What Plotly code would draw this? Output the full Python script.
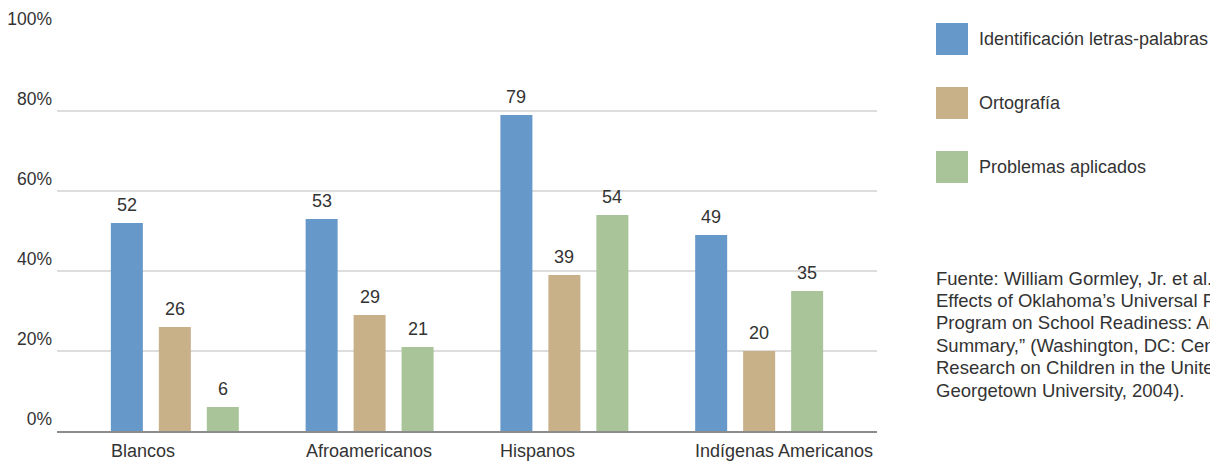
import plotly.graph_objects as go

categories = ["Blancos", "Afroamericanos", "Hispanos", "Indígenas Americanos"]
series_names = ["Identificación letras-palabras", "Ortografía", "Problemas aplicados"]
ident_values = [52, 53, 79, 49]
orto_values = [26, 29, 39, 20]
prob_values = [6, 21, 54, 35]
colors = ["#6699C9", "#C8B089", "#A9C499"]
y_ticks = [0, 20, 40, 60, 80, 100]
y_tick_labels = ["0%", "20%", "40%", "60%", "80%", "100%"]
source_lines = [
    "Fuente: William Gormley, Jr. et al. “The",
    "Effects of Oklahoma’s Universal Pre-K",
    "Program on School Readiness: An Executive",
    "Summary,” (Washington, DC: Center for",
    "Research on Children in the United States,",
    "Georgetown University, 2004).",
]

FONT = "Liberation Sans"
FS = 18
TXT = "#333333"
W, H = 1210, 462
L, R, T, B = 57, 333, 31, 31
PW, PH = W - L - R, H - T - B

all_values = [ident_values, orto_values, prob_values]
offsets = [-48, 0, 48]

fig = go.Figure()
for name, vals, col in zip(series_names, all_values, colors):
    fig.add_trace(go.Bar(
        x=categories, y=vals, name=name, marker=dict(color=col, line=dict(width=0)),
        showlegend=False, hoverinfo="x+y+name",
    ))

annotations = []
# value labels
for vals, off in zip(all_values, offsets):
    for c, v in zip(categories, vals):
        annotations.append(dict(
            x=c, y=v, xref="x", yref="y", text=str(v), showarrow=False,
            xshift=off, yshift=6, yanchor="bottom", xanchor="center",
            font=dict(family=FONT, size=FS, color=TXT),
        ))
# category labels, left aligned with the first bar of each group
for c in categories:
    annotations.append(dict(
        x=c, y=0, xref="x", yref="y", text=c, showarrow=False,
        xshift=-66, yshift=-8, yanchor="top", xanchor="left",
        font=dict(family=FONT, size=FS, color=TXT),
    ))

# legend (manual)
shapes = []
for i, (name, col) in enumerate(zip(series_names, colors)):
    top_px = 23 + 64 * i
    x0 = (936 - L) / PW
    x1 = (968 - L) / PW
    y1 = (H - B - top_px) / PH
    y0 = (H - B - top_px - 32) / PH
    shapes.append(dict(type="rect", xref="paper", yref="paper", x0=x0, x1=x1, y0=y0, y1=y1,
                       fillcolor=col, line=dict(width=0)))
    annotations.append(dict(
        x=(977 - L) / PW, y=(y0 + y1) / 2, xref="paper", yref="paper", text=name,
        showarrow=False, xanchor="left", yanchor="middle",
        font=dict(family=FONT, size=FS, color=TXT),
    ))

# source note, one line per annotation for exact line spacing
for i, line in enumerate(source_lines):
    cy = 278 + 22.4 * i
    annotations.append(dict(
        x=(934 - L) / PW, y=(H - B - cy) / PH, xref="paper", yref="paper",
        text=line, showarrow=False, xanchor="left", yanchor="middle", align="left",
        font=dict(family=FONT, size=18.5, color=TXT),
    ))

fig.update_layout(
    width=W, height=H,
    margin=dict(l=L, r=R, t=T, b=B, pad=0, autoexpand=False),
    paper_bgcolor="white", plot_bgcolor="white",
    barmode="group", bargap=0.261, bargroupgap=0.333,
    annotations=annotations, shapes=shapes,
    font=dict(family=FONT, size=FS, color=TXT),
)
fig.update_xaxes(
    type="category", range=[-0.605, 3.605], showticklabels=False, ticks="",
    showgrid=False, showline=True, linecolor="#8c8c8c", linewidth=2, zeroline=False,
    automargin=False,
)
fig.update_yaxes(
    range=[0, 100], tickvals=y_ticks, ticktext=y_tick_labels,
    ticklabelposition="outside top", ticks="", ticklabelstandoff=4,
    showgrid=True, gridcolor="#dddddd", gridwidth=2, zeroline=False, showline=False,
    tickfont=dict(family=FONT, size=17.5, color=TXT), automargin=False,
)

fig.write_html("out.html")
